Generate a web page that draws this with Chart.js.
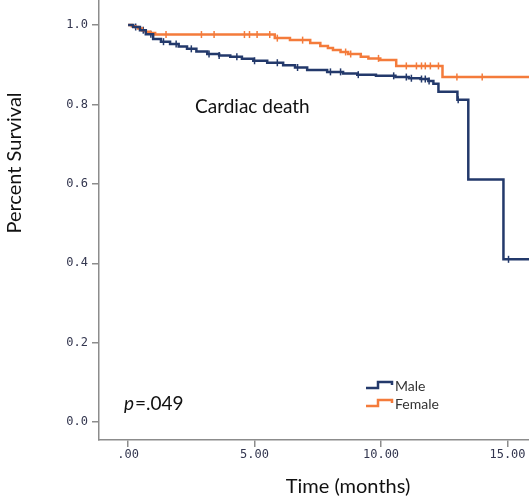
<!DOCTYPE html>
<html lang="en">
<head>
  <meta charset="UTF-8" />
  <title>Cardiac death survival</title>
  <script src="https://cdn.jsdelivr.net/npm/chart.js"></script>
  <style>
    html, body { margin: 0; padding: 0; background: #fff; }
    #wrap { width: 529px; height: 501px; }
  </style>
</head>
<body>
  <div id="wrap"><canvas id="kmChart" width="529" height="501"></canvas></div>

  <script>
    // Kaplan-Meier steps (time in months, survival)
    const maleTimes = [0, 0.2, 0.47, 0.7, 0.99, 1.3, 1.66, 2.0, 2.33, 2.7, 3.13, 3.6, 4.04, 4.5, 4.95, 5.5, 6.13, 6.6, 7.08, 7.87, 8.5, 9.06, 9.8, 10.57, 11.1, 11.56, 11.87, 12.07, 12.27, 13.02, 13.45, 14.84, 15.9];
    const maleSurv  = [1.0, 0.995, 0.987, 0.977, 0.965, 0.958, 0.952, 0.946, 0.940, 0.933, 0.927, 0.923, 0.920, 0.915, 0.910, 0.905, 0.899, 0.893, 0.887, 0.882, 0.878, 0.875, 0.872, 0.869, 0.866, 0.864, 0.859, 0.852, 0.832, 0.812, 0.611, 0.410, 0.410];

    const femaleTimes = [0, 0.15, 0.28, 0.4, 0.55, 0.7, 0.87, 1.07, 5.8, 6.4, 7.2, 7.6, 7.9, 8.1, 8.4, 8.7, 9.2, 9.5, 9.97, 10.6, 12.43, 15.9];
    const femaleSurv  = [1.0, 0.997, 0.995, 0.991, 0.987, 0.983, 0.98, 0.976, 0.967, 0.962, 0.955, 0.947, 0.942, 0.937, 0.932, 0.927, 0.920, 0.916, 0.912, 0.897, 0.869, 0.869];

    // censored observations (months)
    const maleCensor = [0.3, 0.6, 0.9, 1.4, 1.9, 2.5, 3.2, 3.6, 4.3, 5.0, 5.9, 6.7, 8.0, 8.4, 9.1, 10.5, 11.0, 11.2, 11.6, 11.75, 11.9, 13.05, 15.04];
    const femaleCensor = [1.5, 2.9, 3.4, 4.6, 4.8, 5.1, 5.6, 5.9, 6.9, 8.6, 8.8, 9.9, 11.0, 11.4, 11.6, 11.75, 11.95, 12.27, 13.0, 14.0];

    const xTickValues = [0, 5, 10, 15];
    const xTickLabels = ['.00', '5.00', '10.00', '15.00'];
    const yTickValues = [0, 0.2, 0.4, 0.6, 0.8, 1.0];
    const yTickLabels = ['0.0', '0.2', '0.4', '0.6', '0.8', '1.0'];

    const maleColor = '#23396b';
    const femaleColor = '#f47b3b';
    const axisColor = '#8c8c8c';

    const malePts = maleTimes.map((t, i) => ({ x: t, y: maleSurv[i] }));
    const femalePts = femaleTimes.map((t, i) => ({ x: t, y: femaleSurv[i] }));

    // survival value of a step curve at time t
    function survAt(pts, t) {
      let s = pts[0].y;
      for (const p of pts) { if (p.x <= t) s = p.y; }
      return s;
    }

    const textPlugin = {
      id: 'kmText',
      afterDraw(chart) {
        const ctx = chart.ctx;
        ctx.save();
        ctx.fillStyle = '#111';
        ctx.textBaseline = 'middle';

        // axis titles
        ctx.font = '20px Lato';
        ctx.textAlign = 'center';
        ctx.fillText('Time (months)', 348, 487);
        ctx.save();
        ctx.translate(15, 163);
        ctx.rotate(-Math.PI / 2);
        ctx.fillText('Percent Survival', 0, 0);
        ctx.restore();

        // annotation
        ctx.textAlign = 'left';
        ctx.font = '19px Lato';
        ctx.fillText('Cardiac death', 195, 107);
        ctx.font = 'italic 19px Lato';
        ctx.fillText('p', 124, 404);
        const pw = ctx.measureText('p').width;
        ctx.font = '19px Lato';
        ctx.fillText('=.049', 124 + pw + 1, 404);

        // legend
        const items = [['Male', maleColor, 385], ['Female', femaleColor, 403]];
        ctx.lineWidth = 2.5;
        ctx.font = '14px Lato';
        for (const [label, col, y] of items) {
          ctx.strokeStyle = col;
          ctx.beginPath();
          ctx.moveTo(366, y + 3);
          ctx.lineTo(378, y + 3);
          ctx.lineTo(378, y - 3);
          ctx.lineTo(392, y - 3);
          ctx.lineTo(392, y);
          ctx.stroke();
          ctx.fillStyle = '#333';
          ctx.fillText(label, 395, y + 1);
        }
        ctx.restore();
      }
    };

    function noPad(s) {
      s.paddingTop = 0;
      s.paddingBottom = 0;
      s.paddingLeft = 0;
      s.paddingRight = 0;
    }

    const ctx = document.getElementById('kmChart').getContext('2d');
    new Chart(ctx, {
      type: 'scatter',
      data: {
        datasets: [
          {
            label: 'Male',
            data: malePts,
            showLine: true,
            stepped: true,
            borderColor: maleColor,
            borderWidth: 2.5,
            pointRadius: 0
          },
          {
            label: 'Female',
            data: femalePts,
            showLine: true,
            stepped: true,
            borderColor: femaleColor,
            borderWidth: 2.5,
            pointRadius: 0
          },
          {
            label: 'Male censored',
            data: maleCensor.map(t => ({ x: t, y: survAt(malePts, t) })),
            pointStyle: 'line',
            rotation: 90,
            radius: 3.5,
            borderColor: maleColor,
            borderWidth: 1.5
          },
          {
            label: 'Female censored',
            data: femaleCensor.map(t => ({ x: t, y: survAt(femalePts, t) })),
            pointStyle: 'line',
            rotation: 90,
            radius: 3.5,
            borderColor: femaleColor,
            borderWidth: 1.5
          }
        ]
      },
      options: {
        responsive: false,
        animation: false,
        layout: { padding: 0, autoPadding: false },
        plugins: {
          legend: { display: false },
          tooltip: { enabled: false }
        },
        scales: {
          x: {
            type: 'linear',
            min: -1.15,
            max: 15.85,
            afterBuildTicks: s => { s.ticks = xTickValues.map(v => ({ value: v })); },
            afterFit: s => { s.height = 61; noPad(s); },
            ticks: {
              callback: (v, i) => xTickLabels[i],
              font: { family: 'DejaVu Sans Mono', size: 12 },
              color: '#33364f',
              padding: 1,
              maxRotation: 0
            },
            grid: { drawOnChartArea: false, drawTicks: true, tickLength: 7, color: axisColor, lineWidth: 1.5 },
            border: { color: axisColor, width: 1.5 }
          },
          y: {
            min: -0.045,
            max: 1.063,
            afterBuildTicks: s => { s.ticks = yTickValues.map(v => ({ value: v })); },
            afterFit: s => { s.width = 99; noPad(s); },
            ticks: {
              callback: (v, i) => yTickLabels[i],
              font: { family: 'DejaVu Sans Mono', size: 12 },
              color: '#33364f',
              padding: 4
            },
            grid: { drawOnChartArea: false, drawTicks: true, tickLength: 7, color: axisColor, lineWidth: 1.5 },
            border: { color: axisColor, width: 1.5 }
          }
        }
      },
      plugins: [textPlugin]
    });
  </script>
</body>
</html>
